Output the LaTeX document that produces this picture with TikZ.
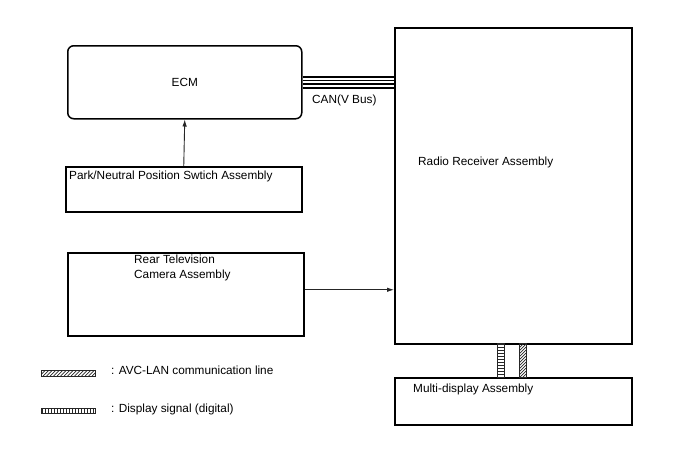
\documentclass[tikz,border=0pt]{standalone}
\usepackage{fontspec}
\setmainfont{Liberation Sans}
\usetikzlibrary{arrows.meta,calc}
\begin{document}
\begin{tikzpicture}[x=1pt,y=-1pt,
  box/.style={draw=black,line width=1.5pt,inner sep=0pt,anchor=north west},
  lbl/.style={inner sep=0pt,font=\fontsize{11.8}{14.5}\selectfont,align=left},
  arr/.style={draw=black!85,line width=0.9pt,-{Latex[length=7pt,width=4.5pt]}},
  strip/.style={draw=black!85,line width=0.8pt,fill=white}]
\useasboundingbox[fill=white] (0,0) rectangle (688,463);
% boxes
\node[box,rounded corners=6pt,minimum width=234pt,minimum height=73pt] (ecm) at (67,45) {};
\node[box,minimum width=237pt,minimum height=316pt] (radio) at (394,27) {};
\node[box,minimum width=236pt,minimum height=45pt] (pn) at (65,166) {};
\node[box,minimum width=236pt,minimum height=83pt] (rear) at (67,252) {};
\node[box,minimum width=237pt,minimum height=47pt] (multi) at (394,377) {};
% labels
\node[lbl] (ecmt) at (ecm.center) {ECM};
\node[lbl,anchor=west] (cant) at (312,100) {CAN(V Bus)};
\node[lbl,anchor=west] (radiot) at (418,162) {Radio Receiver Assembly};
\node[lbl,anchor=west] (pnt) at (69,176) {Park/Neutral Position Swtich Assembly};
\node[lbl,anchor=north west] (reart) at (134,255) {Rear Television\\Camera Assembly};
\node[lbl,anchor=west] (multit) at (413,389.5) {Multi-display Assembly};
\node[lbl,anchor=west] (leg1t) at (111,370) {: AVC-LAN communication line};
\node[lbl,anchor=west] (leg2t) at (111,409) {: Display signal (digital)};
% CAN bus
\coordinate (canl) at (ecm.east);
\foreach \dy/\w in {-5.5/1.9,-1.8/1.4,1.8/1.4,5.5/1.9}{
  \draw[line width=\w pt] ($(canl)+(0,\dy)$) -- ($(canl -| radio.west)+(0,\dy)$);
}
% arrows
\draw[arr] (pn.north) -- (ecm.south);
\coordinate (rearout) at ([yshift=4.5pt]rear.east);
\draw[arr] (rearout) -- (rearout -| radio.west);
% vertical strips
\begin{scope}
  \clip (497,343) rectangle (504,377);
  \foreach \yy in {344.5,347.5,...,377}{\draw[black!85,line width=0.7pt] (497,\yy) -- (504,\yy);}
\end{scope}
\draw[strip,fill=none] (497,343) rectangle (504,377);
\begin{scope}
  \clip (519,343) rectangle (526,377);
  \foreach \yy in {336,339,...,386}{\draw[black!85,line width=0.7pt] (519,\yy) -- (526,\yy-7);}
\end{scope}
\draw[strip,fill=none] (519,343) rectangle (526,377);
% legend strips
\begin{scope}
  \clip (41,370) rectangle (95,376);
  \foreach \xx in {36,39.5,...,100}{\draw[black!85,line width=0.7pt] (\xx,376) -- (\xx+6,370);}
\end{scope}
\draw[strip,fill=none] (41,370) rectangle (95,376);
\begin{scope}
  \clip (41,408) rectangle (95,413);
  \foreach \xx in {42.5,45.5,...,95}{\draw[black!85,line width=0.7pt] (\xx,408) -- (\xx,413);}
\end{scope}
\draw[strip,fill=none] (41,408) rectangle (95,413);
\end{tikzpicture}
\end{document}
